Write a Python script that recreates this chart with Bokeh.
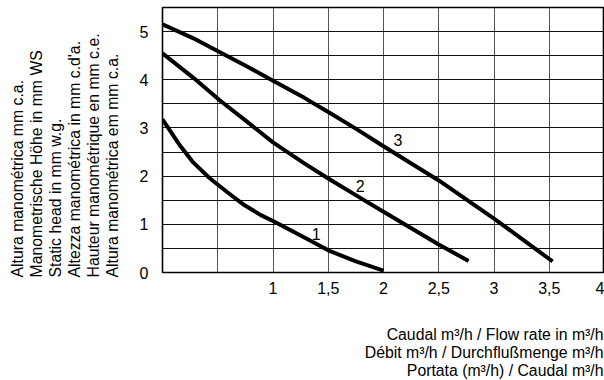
from bokeh.plotting import figure
from bokeh.models import FixedTicker, Range1d, Title
from bokeh.core.properties import value
from bokeh.embed import file_html
from bokeh.resources import INLINE

# ---- data ----
curve1_x = [0.0, 0.16, 0.28, 0.43, 0.59, 0.74, 0.89, 1.0, 1.25, 1.5, 1.75, 2.0]
curve1_y = [3.18, 2.63, 2.28, 1.95, 1.66, 1.40, 1.19, 1.07, 0.77, 0.46, 0.23, 0.04]

curve2_x = [0.0, 0.28, 0.52, 0.77, 1.0, 1.28, 1.5, 1.76, 2.0, 2.5, 2.77]
curve2_y = [4.55, 4.04, 3.57, 3.12, 2.70, 2.27, 1.95, 1.59, 1.26, 0.58, 0.24]

curve3_x = [0.0, 0.28, 0.52, 0.77, 1.0, 1.28, 1.5, 1.76, 2.0, 2.5, 3.0, 3.5, 3.53]
curve3_y = [5.15, 4.86, 4.57, 4.27, 3.98, 3.63, 3.33, 2.97, 2.62, 1.91, 1.12, 0.28, 0.23]

curve_names = ["1", "2", "3"]
curve_label_x = [1.39, 1.79, 2.13]
curve_label_y = [0.79, 1.80, 2.75]

x_ticks = [1, 1.5, 2, 2.5, 3, 3.5, 4]
x_tick_labels = ["1", "1,5", "2", "2,5", "3", "3,5", "4"]
y_ticks = [0, 1, 2, 3, 4, 5]
x_grid = [0.5, 1, 1.5, 2, 2.5, 3, 3.5, 4]
y_grid = [0.5, 1, 1.5, 2, 2.5, 3, 3.5, 4, 4.5, 5, 5.5]

y_title_lines = [
    "Altura manométrica mm c.a.",
    "Manometrische Höhe in mm WS",
    "Static head in mm w.g.",
    "Altezza manométrica in mm c.d'a.",
    "Hauteur manométrique en mm c.e.",
    "Altura manométrica em mm c.a.",
]
x_title_lines = [
    "Caudal m³/h / Flow rate in m³/h",
    "Débit m³/h / Durchflußmenge m³/h",
    "Portata (m³/h) / Caudal m³/h",
]

FONT = "Liberation Sans"
TITLE_SIZE = "15.8px"

p = figure(width=604, height=380, output_backend="svg", toolbar_location=None,
           x_range=Range1d(0, 4), y_range=Range1d(0, 5.5),
           min_border_left=162, min_border_right=0, min_border_top=7,
           min_border_bottom=108)
p.background_fill_color = "white"
p.border_fill_color = "white"
p.outline_line_color = "black"
p.outline_line_width = 1.6

# axes
p.xaxis.ticker = FixedTicker(ticks=x_ticks)
p.xaxis.major_label_overrides = {t: l for t, l in zip(x_ticks, x_tick_labels)}
p.yaxis.ticker = FixedTicker(ticks=y_ticks)
for ax in (p.xaxis, p.yaxis):
    ax.axis_line_color = None
    ax.major_tick_line_color = None
    ax.minor_tick_line_color = None
    ax.major_tick_out = 0
    ax.major_tick_in = 0
    ax.minor_tick_out = 0
    ax.minor_tick_in = 0
    ax.major_label_text_font = FONT
    ax.major_label_text_font_size = "16px"
    ax.major_label_text_color = "black"
    # blank axis label used only as spacing between tick labels and titles
    ax.axis_label = " "
    ax.axis_label_text_font_size = "10px"
p.xaxis.major_label_standoff = 9
p.yaxis.major_label_standoff = 14
p.xaxis.axis_label_standoff = 14
p.yaxis.axis_label_standoff = 1

# grid
p.xgrid.ticker = FixedTicker(ticks=x_grid)
p.ygrid.ticker = FixedTicker(ticks=y_grid)
p.xgrid.grid_line_color = "#555555"
p.xgrid.grid_line_width = 1
p.ygrid.grid_line_color = "#111111"
p.ygrid.grid_line_width = 1.2

# curves
for xs, ys in ((curve1_x, curve1_y), (curve2_x, curve2_y), (curve3_x, curve3_y)):
    p.line(xs, ys, line_color="black", line_width=4, line_join="round", line_cap="butt")

p.text(x=curve_label_x, y=curve_label_y, text=curve_names,
       text_font=value(FONT), text_font_size="16px", text_color="black",
       text_align="center", text_baseline="middle")

# y title: six stacked side titles, the one nearest to the axis first
for line in reversed(y_title_lines):
    p.add_layout(Title(text=line, align="left", vertical_align="middle", offset=-5,
                       standoff=0, text_font=FONT, text_font_size=TITLE_SIZE,
                       text_font_style="normal", text_color="black",
                       text_line_height=1.0), "left")

# x title: three stacked titles below, right aligned
for line in x_title_lines:
    p.add_layout(Title(text=line, align="right", vertical_align="bottom", offset=1,
                       standoff=-1.4, text_font=FONT, text_font_size=TITLE_SIZE,
                       text_font_style="normal", text_color="black",
                       text_line_height=1.0), "below")

open("out.html", "w").write(file_html(p, INLINE))
